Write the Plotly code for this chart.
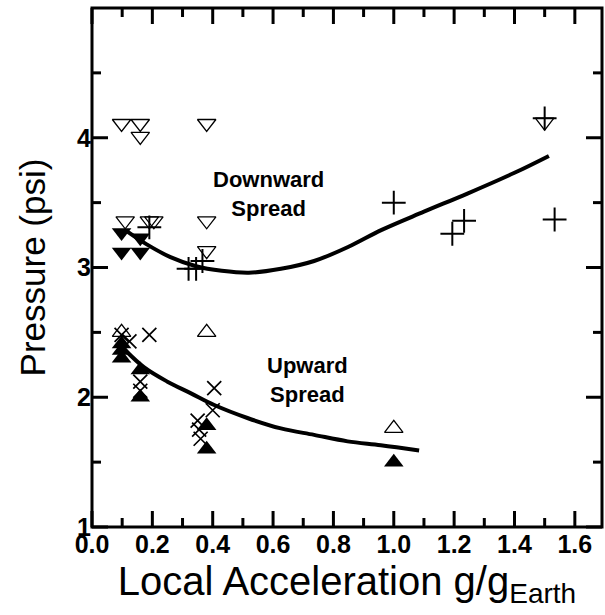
import plotly.graph_objects as go

# ---- data ----
down_open_x = [0.098, 0.16, 0.16, 0.38, 0.11, 0.19, 0.205, 0.38, 0.38, 1.50]
down_open_y = [4.11, 4.11, 4.01, 4.11, 3.36, 3.36, 3.36, 3.36, 3.13, 4.12]

down_fill_x = [0.098, 0.098, 0.16, 0.16]
down_fill_y = [3.27, 3.12, 3.23, 3.12]

down_plus_x = [0.19, 0.32, 0.345, 0.366, 1.0, 1.194, 1.233, 1.50, 1.533]
down_plus_y = [3.31, 2.99, 2.99, 3.05, 3.50, 3.26, 3.36, 4.15, 3.37]

up_open_x = [0.098, 0.38, 1.0]
up_open_y = [2.50, 2.50, 1.76]

up_fill_x = [0.098, 0.098, 0.098, 0.16, 0.16, 0.38, 0.38, 1.0]
up_fill_y = [2.41, 2.36, 2.30, 2.21, 2.00, 1.78, 1.60, 1.50]

up_cross_x = [0.098, 0.124, 0.19, 0.16, 0.16, 0.405, 0.40, 0.35, 0.355, 0.36]
up_cross_y = [2.48, 2.43, 2.48, 2.12, 2.05, 2.07, 1.90, 1.82, 1.75, 1.68]

down_fit_x = [0.115, 0.18, 0.26, 0.345, 0.43, 0.52, 0.626, 0.736, 0.85, 0.96, 1.1, 1.244, 1.40, 1.514]
down_fit_y = [3.28, 3.18, 3.08, 3.01, 2.975, 2.96, 2.99, 3.05, 3.16, 3.29, 3.43, 3.57, 3.73, 3.86]

up_fit_x = [0.107, 0.173, 0.25, 0.328, 0.405, 0.515, 0.626, 0.736, 0.847, 0.957, 1.084]
up_fit_y = [2.37, 2.23, 2.12, 2.03, 1.94, 1.84, 1.76, 1.71, 1.66, 1.63, 1.59]

x_ticks = [0.0, 0.2, 0.4, 0.6, 0.8, 1.0, 1.2, 1.4, 1.6]
x_tick_labels = ["0.0", "0.2", "0.4", "0.6", "0.8", "1.0", "1.2", "1.4", "1.6"]
x_minor_ticks = [0.1, 0.3, 0.5, 0.7, 0.9, 1.1, 1.3, 1.5]
y_ticks = [1, 2, 3, 4]
y_tick_labels = ["1", "2", "3", "4"]
y_minor_ticks = [1.5, 2.5, 3.5, 4.5]

X_RANGE = [0, 1.69]
Y_RANGE = [1, 5]
FONT = "Arial, Liberation Sans, sans-serif"
W, H = 605, 615
MARGIN = dict(l=92, r=3, t=8, b=88)
MAJOR_LEN = 16  # px
MINOR_LEN = 9   # px
TICK_W = 3

fig = go.Figure()

line_style = dict(color="black", width=4, shape="spline")
fig.add_trace(go.Scatter(x=down_fit_x, y=down_fit_y, mode="lines", line=line_style, hoverinfo="skip"))
fig.add_trace(go.Scatter(x=up_fit_x, y=up_fit_y, mode="lines", line=line_style, hoverinfo="skip"))

fig.add_trace(go.Scatter(x=down_open_x, y=down_open_y, mode="markers",
                         marker=dict(symbol="triangle-down-open", size=16, color="black",
                                     line=dict(width=1.3, color="black"))))
fig.add_trace(go.Scatter(x=down_fill_x, y=down_fill_y, mode="markers",
                         marker=dict(symbol="triangle-down", size=17, color="black", line=dict(width=0))))
fig.add_trace(go.Scatter(x=down_plus_x, y=down_plus_y, mode="markers",
                         marker=dict(symbol="cross-thin", size=17, color="black",
                                     line=dict(width=2, color="black"))))
fig.add_trace(go.Scatter(x=up_open_x, y=up_open_y, mode="markers",
                         marker=dict(symbol="triangle-up-open", size=16, color="black",
                                     line=dict(width=1.3, color="black"))))
fig.add_trace(go.Scatter(x=up_fill_x, y=up_fill_y, mode="markers",
                         marker=dict(symbol="triangle-up", size=17, color="black", line=dict(width=0))))
fig.add_trace(go.Scatter(x=up_cross_x, y=up_cross_y, mode="markers",
                         marker=dict(symbol="x-thin", size=14, color="black",
                                     line=dict(width=1.7, color="black"))))

fig.add_annotation(x=0.586, y=3.57, text="<b>Downward<br>Spread</b>", showarrow=False,
                   font=dict(family=FONT, size=22, color="black"))
fig.add_annotation(x=0.714, y=2.13, text="<b>Upward<br>Spread</b>", showarrow=False,
                   font=dict(family=FONT, size=22, color="black"))

# frame plus inward tick marks on all four sides, in paper coordinates
# computed from the tick value lists
plot_w = W - MARGIN["l"] - MARGIN["r"]
plot_h = H - MARGIN["t"] - MARGIN["b"]
tick_line = dict(color="black", width=TICK_W)
shapes = [dict(type="rect", xref="paper", yref="paper", x0=0, x1=1, y0=0, y1=1,
               line=dict(color="black", width=3), layer="above")]
for vals, ln in [(x_ticks, MAJOR_LEN), (x_minor_ticks, MINOR_LEN)]:
    for v in vals:
        px = (v - X_RANGE[0]) / (X_RANGE[1] - X_RANGE[0])
        shapes.append(dict(type="line", xref="paper", yref="paper", x0=px, x1=px,
                           y0=0, y1=ln / plot_h, line=tick_line, layer="above"))
        shapes.append(dict(type="line", xref="paper", yref="paper", x0=px, x1=px,
                           y0=1, y1=1 - ln / plot_h, line=tick_line, layer="above"))
for vals, ln in [(y_ticks, MAJOR_LEN), (y_minor_ticks, MINOR_LEN)]:
    for v in vals:
        py = (v - Y_RANGE[0]) / (Y_RANGE[1] - Y_RANGE[0])
        shapes.append(dict(type="line", xref="paper", yref="paper", y0=py, y1=py,
                           x0=0, x1=ln / plot_w, line=tick_line, layer="above"))
        shapes.append(dict(type="line", xref="paper", yref="paper", y0=py, y1=py,
                           x0=1, x1=1 - ln / plot_w, line=tick_line, layer="above"))

fig.update_layout(
    xaxis=dict(range=X_RANGE, tickvals=x_ticks, ticktext=x_tick_labels, ticks="",
               showgrid=False, zeroline=False, showline=False,
               tickfont=dict(family=FONT, size=25, color="black", weight="bold"),
               title=dict(text="Local Acceleration g/g<sub>Earth</sub>", standoff=9,
                          font=dict(family=FONT, size=40, color="black"))),
    yaxis=dict(range=Y_RANGE, tickvals=y_ticks, ticktext=y_tick_labels, ticks="",
               showgrid=False, zeroline=False, showline=False,
               tickfont=dict(family=FONT, size=25, color="black", weight="bold"),
               title=dict(text="Pressure (psi)", standoff=20,
                          font=dict(family=FONT, size=35, color="black"))),
    width=W, height=H, margin=dict(**MARGIN, autoexpand=False),
    paper_bgcolor="white", plot_bgcolor="white", showlegend=False,
    shapes=shapes,
)

fig.write_html("out.html", config={"displayModeBar": False},
               post_script="document.body.style.margin='0';")
